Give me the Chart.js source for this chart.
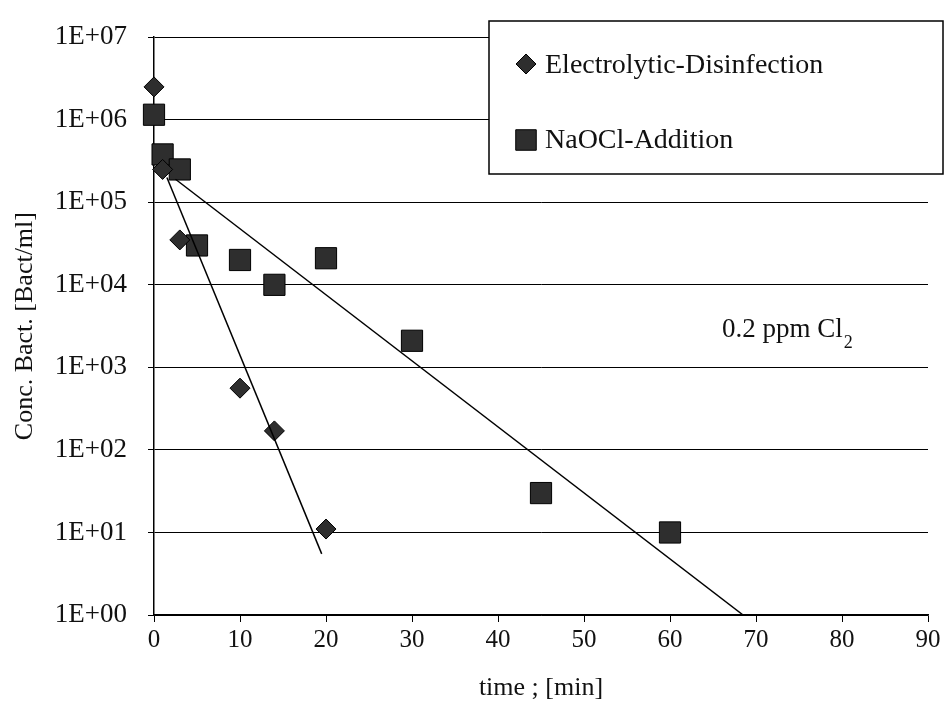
<!DOCTYPE html>
<html>
<head>
<meta charset="utf-8">
<script src="https://cdn.jsdelivr.net/npm/chart.js@4.4.1/dist/chart.umd.min.js"></script>
<style>
  html, body { margin: 0; padding: 0; background: #fff; }
  #wrap { width: 946px; height: 701px; }
</style>
</head>
<body>
<div id="wrap"><canvas id="c" width="946" height="701"></canvas></div>
<script>
// Bacteria concentration over time for two disinfection methods
const seriesNames = ['Electrolytic-Disinfection', 'NaOCl-Addition'];

const electroTime = [0, 1, 3, 10, 14, 20];
const electroConc = [2.5e6, 2.5e5, 3.5e4, 560, 170, 11];

const naoclTime = [0, 1, 3, 5, 10, 14, 20, 30, 45, 60];
const naoclConc = [1.15e6, 3.8e5, 2.5e5, 3.0e4, 2.0e4, 1.0e4, 2.1e4, 2.1e3, 30, 10];

// exponential decay trend lines (straight on the log axis)
const electroFitTime = [1.5, 19.5];
const electroFitConc = [2.0e5, 5.5];
const naoclFitTime = [2.5, 68.5];
const naoclFitConc = [1.9e5, 1];

const xTicks = [0, 10, 20, 30, 40, 50, 60, 70, 80, 90];
const yTicks = [1, 10, 100, 1e3, 1e4, 1e5, 1e6, 1e7];
const yTickLabels = ['1E+00', '1E+01', '1E+02', '1E+03', '1E+04', '1E+05', '1E+06', '1E+07'];

const xTitle = 'time ; [min]';
const yTitle = 'Conc. Bact. [Bact/ml]';
const noteMain = '0.2 ppm Cl';
const noteSub = '2';

const serif = "'Liberation Serif', 'Times New Roman', serif";
const ink = '#111';
const markFill = '#2e2e2e';

const toPoints = (xs, ys) => xs.map((x, i) => ({ x: x, y: ys[i] }));

// legend box and concentration note, drawn on top of the grid
const overlayPlugin = {
  id: 'overlay',
  afterDatasetsDraw(chart) {
    const ctx = chart.ctx;
    const ds = chart.data.datasets;
    ctx.save();
    // legend frame
    const L = 489, T = 21, R = 943, B = 174;
    ctx.fillStyle = '#fff';
    ctx.fillRect(L, T, R - L, B - T);
    ctx.strokeStyle = '#000';
    ctx.lineWidth = 1.5;
    ctx.strokeRect(L, T, R - L, B - T);

    const rows = [
      { ds: ds[0], y: 64, base: 73, radius: 10 },
      { ds: ds[1], y: 140, base: 148, radius: 14.5 }
    ];
    rows.forEach(row => {
      ctx.fillStyle = row.ds.backgroundColor;
      ctx.strokeStyle = row.ds.borderColor;
      ctx.lineWidth = 1;
      Chart.helpers.drawPoint(ctx, {
        pointStyle: row.ds.pointStyle,
        radius: row.radius,
        rotation: 0,
        borderWidth: 1
      }, 526, row.y);
      ctx.fillStyle = ink;
      ctx.font = '28px ' + serif;
      ctx.textAlign = 'left';
      ctx.textBaseline = 'alphabetic';
      ctx.fillText(row.ds.label, 545, row.base);
    });

    // concentration note with subscript
    ctx.fillStyle = ink;
    ctx.font = '27px ' + serif;
    ctx.fillText(noteMain, 722, 337);
    const w = ctx.measureText(noteMain).width;
    ctx.font = '18px ' + serif;
    ctx.fillText(noteSub, 722 + w + 1, 348);
    ctx.restore();
  }
};

new Chart(document.getElementById('c'), {
  type: 'scatter',
  data: {
    datasets: [
      {
        label: seriesNames[0],
        data: toPoints(electroTime, electroConc),
        pointStyle: 'rectRot',
        pointRadius: 10,
        pointHoverRadius: 10,
        backgroundColor: markFill,
        borderColor: '#000',
        borderWidth: 1,
        clip: false,
        order: 1
      },
      {
        label: seriesNames[1],
        data: toPoints(naoclTime, naoclConc),
        pointStyle: 'rect',
        pointRadius: 15,
        pointHoverRadius: 15,
        backgroundColor: markFill,
        borderColor: '#000',
        borderWidth: 1,
        clip: false,
        order: 2
      },
      {
        label: 'fit-electrolytic',
        data: toPoints(electroFitTime, electroFitConc),
        showLine: true,
        pointRadius: 0,
        borderColor: '#000',
        borderWidth: 1.5,
        fill: false,
        order: 0
      },
      {
        label: 'fit-naocl',
        data: toPoints(naoclFitTime, naoclFitConc),
        showLine: true,
        pointRadius: 0,
        borderColor: '#000',
        borderWidth: 1.5,
        fill: false,
        order: 0
      }
    ]
  },
  options: {
    responsive: false,
    animation: false,
    events: [],
    layout: { padding: { top: 25, right: 18, bottom: 0, left: 0 } },
    plugins: {
      legend: { display: false },
      tooltip: { enabled: false }
    },
    scales: {
      x: {
        type: 'linear',
        min: 0,
        max: 90,
        afterBuildTicks: s => { s.ticks = xTicks.map(v => ({ value: v })); },
        afterFit: s => { s.height = 86; },
        grid: { drawOnChartArea: false, drawTicks: true, tickLength: 7, color: '#000', lineWidth: 1 },
        border: { display: true, color: '#000', width: 1.5 },
        ticks: {
          color: ink,
          padding: 3,
          maxRotation: 0,
          font: { family: serif, size: 25 }
        },
        title: {
          display: true,
          text: xTitle,
          color: ink,
          font: { family: serif, size: 26, lineHeight: 1 },
          padding: { top: 0, bottom: 0 }
        }
      },
      y: {
        type: 'logarithmic',
        min: 1,
        max: 1e7,
        afterBuildTicks: s => { s.ticks = yTicks.map(v => ({ value: v })); },
        afterFit: s => { s.width = 154; },
        grid: { drawOnChartArea: true, drawTicks: true, tickLength: 6, color: '#000', lineWidth: 1 },
        border: { display: true, color: '#000', width: 1.5 },
        ticks: {
          color: ink,
          padding: 21,
          font: { family: serif, size: 27 },
          callback: (v) => {
            const i = yTicks.indexOf(v);
            return i >= 0 ? yTickLabels[i] : '';
          }
        },
        title: {
          display: true,
          text: yTitle,
          color: ink,
          font: { family: serif, size: 26, lineHeight: 1 },
          padding: { top: 12, bottom: 0 }
        }
      }
    }
  },
  plugins: [overlayPlugin]
});
</script>
</body>
</html>
